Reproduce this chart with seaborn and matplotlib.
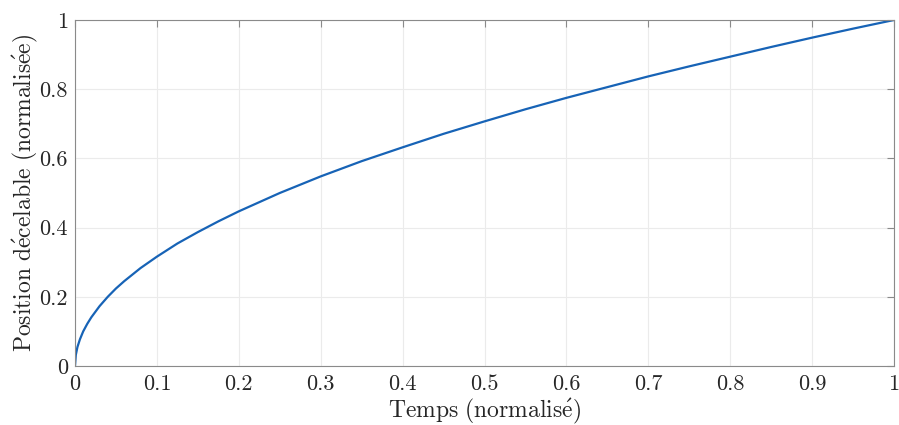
import numpy as np
import pandas as pd
import seaborn as sns
import matplotlib.pyplot as plt
from matplotlib.ticker import FuncFormatter

# values
temps = [0, 0.001, 0.003, 0.006, 0.01, 0.015, 0.02, 0.03, 0.04, 0.05, 0.06, 0.08,
         0.1, 0.125, 0.15, 0.175, 0.2, 0.25, 0.3, 0.35, 0.4, 0.45, 0.5, 0.55,
         0.6, 0.65, 0.7, 0.75, 0.8, 0.85, 0.9, 0.95, 1.0]
position = [0, 0.032, 0.055, 0.077, 0.1, 0.122, 0.141, 0.173, 0.2, 0.224, 0.245, 0.283,
            0.316, 0.354, 0.387, 0.418, 0.447, 0.5, 0.548, 0.592, 0.632, 0.671, 0.707, 0.742,
            0.775, 0.806, 0.837, 0.866, 0.894, 0.922, 0.949, 0.975, 1.0]
x_ticks = [0, 0.1, 0.2, 0.3, 0.4, 0.5, 0.6, 0.7, 0.8, 0.9, 1]
y_ticks = [0, 0.2, 0.4, 0.6, 0.8, 1]

df = pd.DataFrame({"Temps": temps, "Position": position})

sns.set_style("white")
plt.rcParams['font.family'] = ['cmr10', 'DejaVu Serif']
plt.rcParams['mathtext.fontset'] = 'cm'
plt.rcParams['axes.unicode_minus'] = False

fig = plt.figure(figsize=(8.99, 4.25), dpi=100)
ax = fig.add_axes([75/899, 1 - 366/425, (894-75)/899, (366-20)/425])

sns.lineplot(data=df, x="Temps", y="Position", ax=ax, color="#1763b6",
             linewidth=1.6, estimator=None, sort=False)

ax.set_xlim(0, 1)
ax.set_ylim(0, 1)
ax.set_xticks(x_ticks)
ax.set_yticks(y_ticks)
fmt = FuncFormatter(lambda v, p: ("%g" % v))
ax.xaxis.set_major_formatter(fmt)
ax.yaxis.set_major_formatter(fmt)
ax.grid(True, color="#ebebeb", linewidth=0.8)
ax.set_axisbelow(True)
for s in ax.spines.values():
    s.set_color("#8a8a8a")
    s.set_linewidth(0.8)
ax.tick_params(direction="in", top=True, right=True, length=5, width=0.8,
               color="#8a8a8a", labelsize=16, labelcolor="#262626")
ax.tick_params(axis="x", pad=6)
ax.tick_params(axis="y", pad=5)
ax.set_xlabel(r"$\mathrm{Temps\ (normalis\acute{e})}$", fontsize=17, color="#262626", labelpad=2)
ax.set_ylabel(r"$\mathrm{Position\ d\acute{e}celable\ (normalis\acute{e}e)}$", fontsize=17,
              color="#262626", labelpad=0)

fig.savefig("out.png", dpi=100)
